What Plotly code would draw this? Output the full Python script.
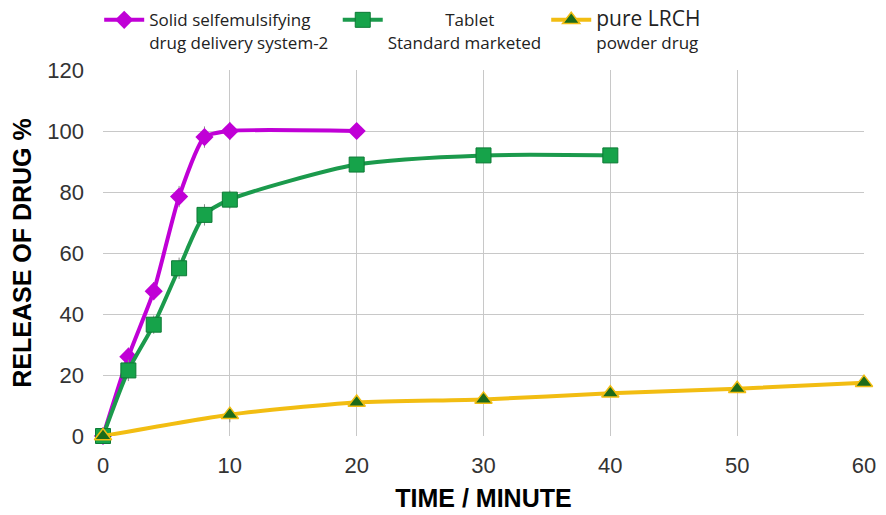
import plotly.graph_objects as go

# Dissolution time points (minutes) and cumulative release (%)
t_sedds = [0, 2, 4, 6, 8, 10, 20]
rel_sedds = [0, 26, 47.5, 78.5, 98, 100, 100]
err_sedds = [0, 3, 3, 3.5, 3.5, 3, 0]

t_tablet = [0, 2, 4, 6, 8, 10, 20, 30, 40]
rel_tablet = [0, 21.5, 36.5, 55, 72.5, 77.5, 89, 92, 92]
err_tablet = [0, 3.5, 3, 3.5, 3.5, 3, 0, 0, 0]

t_pure = [0, 10, 20, 30, 40, 50, 60]
rel_pure = [0, 7, 11, 12, 14, 15.5, 17.5]
err_pure = [2, 2.5, 0, 0, 0, 0, 0]

x_ticks = [0, 10, 20, 30, 40, 50, 60]
y_ticks = [0, 20, 40, 60, 80, 100, 120]

NB = "\u00a0"
name_sedds = "Solid selfemulsifying<br>drug delivery system-2" + NB
name_tablet = NB * 13 + "Tablet<br>Standard marketed"
name_pure = "<span style='font-size:21px'>pure LRCH</span><br>powder drug"

fig = go.Figure()

fig.add_trace(go.Scatter(
    x=t_sedds, y=rel_sedds, name=name_sedds, mode="lines+markers",
    line=dict(color="#c000d6", width=4, shape="spline", smoothing=0.6),
    marker=dict(symbol="diamond", size=14, color="#c000d6"),
    error_y=dict(type="data", array=err_sedds, color="#8a8a8a", thickness=1, width=0),
    cliponaxis=False,
))

fig.add_trace(go.Scatter(
    x=t_tablet, y=rel_tablet, name=name_tablet, mode="lines+markers",
    line=dict(color="#1b9a4c", width=4, shape="spline", smoothing=0.7),
    marker=dict(symbol="square", size=15, color="#16a34a",
                line=dict(color="#0d7a35", width=1)),
    error_y=dict(type="data", array=err_tablet, color="#8a8a8a", thickness=1, width=0),
    cliponaxis=False,
))

fig.add_trace(go.Scatter(
    x=t_pure, y=rel_pure, name=name_pure, mode="lines+markers",
    line=dict(color="#f2bd12", width=4, shape="spline", smoothing=0.7),
    marker=dict(symbol="triangle-up", size=15, color="#1d6b1a",
                line=dict(color="#f2bd12", width=1.5)),
    error_y=dict(type="data", array=err_pure, color="#8a8a8a", thickness=1, width=0),
    cliponaxis=False,
))

fig.update_layout(
    width=886, height=515,
    margin=dict(l=103, r=22, t=70, b=79, autoexpand=False),
    paper_bgcolor="white", plot_bgcolor="white",
    font=dict(family="Liberation Sans, Arial, sans-serif", color="#333333"),
    legend=dict(
        orientation="h", x=-0.005, y=1.185, xanchor="left", yanchor="top",
        valign="top",
        font=dict(family="Open Sans, sans-serif", size=17, color="#222222"),
        itemwidth=40, tracegroupgap=0, bgcolor="rgba(0,0,0,0)",
    ),
    xaxis=dict(
        range=[0, 60], tickvals=x_ticks, showgrid=True, gridcolor="#c8c8c8",
        gridwidth=1, zeroline=False, showline=False,
        tickfont=dict(size=22, color="#333333"), ticks="", ticklabelstandoff=14,
        title=dict(text="<b>TIME / MINUTE</b>", font=dict(size=25, color="#000000"),
                   standoff=12),
    ),
    yaxis=dict(
        range=[0, 120], tickvals=y_ticks, showgrid=True, gridcolor="#c8c8c8",
        gridwidth=1, zeroline=False, showline=False,
        tickfont=dict(size=22, color="#333333"), ticks="", ticklabelstandoff=18,
        title=dict(text="<b>RELEASE OF DRUG %</b>", font=dict(size=25, color="#000000"),
                   standoff=8),
    ),
)

fig.write_html("out.html")
